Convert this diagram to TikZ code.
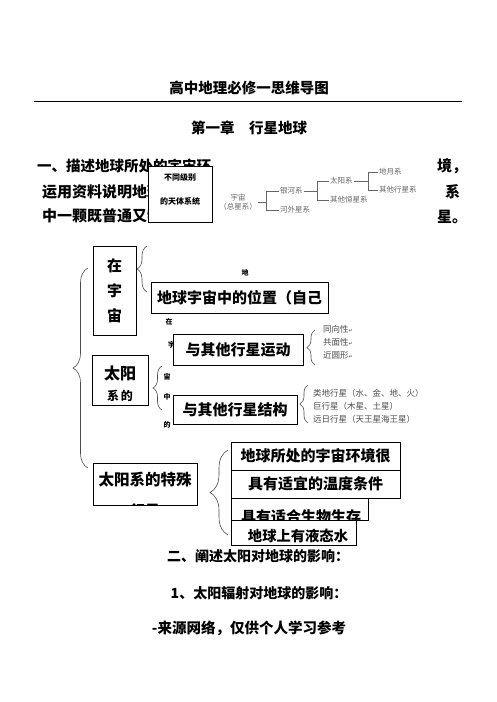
\documentclass[tikz,border=0pt]{standalone}
\usepackage{fontspec}
\setmainfont{Noto Sans CJK SC}
\newfontfamily\dejavu{DejaVu Sans}
\usetikzlibrary{decorations.pathreplacing}
\newcommand{\fsz}[1]{\fontsize{#1}{#1}\selectfont}
\tikzset{
  box/.style={draw, line width=0.8pt, fill=white, inner sep=0pt, font=\bfseries\fsz{15}},
  txt/.style={inner sep=0pt, font=\bfseries\fsz{15}},
  tinytxt/.style={inner sep=0pt, font=\bfseries\fsz{7}},
  graytxt/.style={inner sep=0pt, anchor=west, text=black!70, font=\fsz{8.5}},
  treetxt/.style={inner sep=1pt, text=black!60, font=\fsz{7.5}},
  tl/.style={draw=black!60, line width=0.5pt},
  br/.style={draw=black!70, line width=0.6pt, decorate, decoration={brace, amplitude=#1}},
}
\newcommand{\ret}{{\dejavu\fontsize{5}{5}\selectfont ↵}}
\begin{document}
\begin{tikzpicture}[x=1pt,y=-1pt]
\useasboundingbox[fill=white] (0,0) rectangle (496,702);

% titles
\node[txt, font=\bfseries\fsz{14.5}] (title) at (249,88) {高中地理必修一思维导图};
\draw[line width=1pt] (34,101) -- (462,101);
\node[txt, font=\bfseries\fsz{14.5}] (chap) at (249,128) {第一章　行星地球};

% paragraph text
\node[txt, anchor=west, font=\bfseries\fsz{14.5}] (p1) at (37,166) {一、描述地球所处的宇宙环};
\node[txt, anchor=west] (p2) at (42,192) {运用资料说明地球};
\node[txt, anchor=west] (p3) at (42,216) {中一颗既普通又特};
\node[txt, anchor=west] (p1e) at (437,166) {境，};
\node[txt, anchor=west] (p2e) at (445,192) {系};
\node[txt, anchor=west] (p3e) at (437,217) {星。};

% box over the text
\node[box, minimum width=64, minimum height=56] (jb) at (180,194) {};
\node[tinytxt, font=\bfseries\fsz{8}] (jb1) at (180,177) {不同级别};
\node[tinytxt, font=\bfseries\fsz{8}] (jb2) at (180,201) {的天体系统};

% cosmos tree
\node[treetxt, align=center, font=\fontsize{7.5}{9}\selectfont] (yz) at (238,202) {宇宙\\（总星系）};
\node[treetxt, anchor=west] (yhx) at (279,191) {银河系};
\node[treetxt, anchor=west] (hwx) at (279,210) {河外星系};
\node[treetxt, anchor=west] (tyx) at (329,181) {太阳系};
\node[treetxt, anchor=west] (qthx) at (329,200) {其他恒星系};
\node[treetxt, anchor=west] (dyx) at (378,172) {地月系};
\node[treetxt, anchor=west] (qtxx) at (378,190) {其他行星系};
\draw[tl] (yz.east) -- ++(8,0) |- (yhx.west);
\draw[tl] (yz.east) ++(8,0) |- (hwx.west);
\draw[tl] (yhx.east) -- ++(13,0) |- (tyx.west);
\draw[tl] (yhx.east) ++(13,0) |- (qthx.west);
\draw[tl] (tyx.east) -- ++(14,0) |- (dyx.west);
\draw[tl] (tyx.east) ++(14,0) |- (qtxx.west);

% mind map
\node[box, minimum width=43, minimum height=89, align=center, font=\bfseries\fontsize{15}{25}\selectfont] (zyz) at (114.5,290.5) {在\\宇\\宙};
\draw[br=10] (147,292) -- (147,246);
\node[tinytxt] (s1) at (245,273) {地};
\node[box, minimum width=177, minimum height=31] (wz) at (239.5,297.5) {地球宇宙中的位置（自己};
\node[tinytxt] (s2) at (169,322) {在};
\node[tinytxt] (s3) at (171.5,345) {宇};
\node[box, minimum width=130, minimum height=31] (yd) at (238,349.5) {与其他行星运动};
\draw[br=8] (315,365) -- (315,330);
\node[graytxt] (g1) at (323,329) {同向性\ret};
\node[graytxt] (g2) at (323,342) {共面性\ret};
\node[graytxt] (g3) at (323,355) {近圆形\ret};

\draw[br=15] (88,468) -- (88,268);

\node[box, minimum width=56, minimum height=50] (tyxd) at (120,380.5) {};
\node[txt, font=\bfseries\fsz{16}] (tyxd1) at (120,373) {太阳};
\node[txt, font=\bfseries\fsz{12}] (tyxd2) at (120,396) {系\,的};
\draw[br=9] (162,410) -- (162,366);
\node[tinytxt] (s4) at (167,377) {宙};
\node[tinytxt] (s5) at (167,397) {中};
\node[tinytxt] (s6) at (167,425) {的};
\node[box, minimum width=124, minimum height=29] (jg) at (235,409.5) {与其他行星结构};
\draw[br=8] (308,423) -- (308,385);
\node[graytxt] (g4) at (313,393) {类地行星（水、金、地、火）};
\node[graytxt] (g5) at (313,406) {巨行星（木星、土星）};
\node[graytxt] (g6) at (313,419) {远日行星（天王星海王星）};

\node[box, minimum width=104, minimum height=42] (ts) at (145,484) {};
\node[txt, font=\bfseries\fsz{15.5}] (ts1) at (145,480) {太阳系的特殊};
\begin{scope}
\clip (ts.north west) rectangle (ts.south east);
\node[txt] (ts2) at (145,511) {行星};
\end{scope}
\draw[br=18] (228,535) -- (228,450);

\node[box, minimum width=169, minimum height=28] (b1) at (315.5,456) {地球所处的宇宙环境很};
\node[box, minimum width=169, minimum height=28] (b2) at (315.5,484) {具有适宜的温度条件};
\node[box, minimum width=137, minimum height=22] (b3) at (299.5,509) {};
\begin{scope}
\clip (b3.north west) rectangle (b3.south east);
\node[txt] (b3t) at (301,517) {具有适合生物生存};
\end{scope}
\node[box, minimum width=125, minimum height=25] (b4) at (293.5,532.5) {};
\begin{scope}
\clip (b4.north west) rectangle (b4.south east);
\node[txt, font=\bfseries\fsz{14.3}] (b4t) at (298,536) {地球上有液态水};
\end{scope}

% bottom text
\node[txt, font=\bfseries\fsz{14}] (h2) at (258,556) {二、阐述太阳对地球的影响：};
\node[txt, font=\bfseries\fsz{14}] (h3) at (259,593) {1、太阳辐射对地球的影响：};
\node[txt, font=\bfseries\fsz{14.5}] (h4) at (249,628) {-来源网络，仅供个人学习参考};
\end{tikzpicture}
\end{document}
